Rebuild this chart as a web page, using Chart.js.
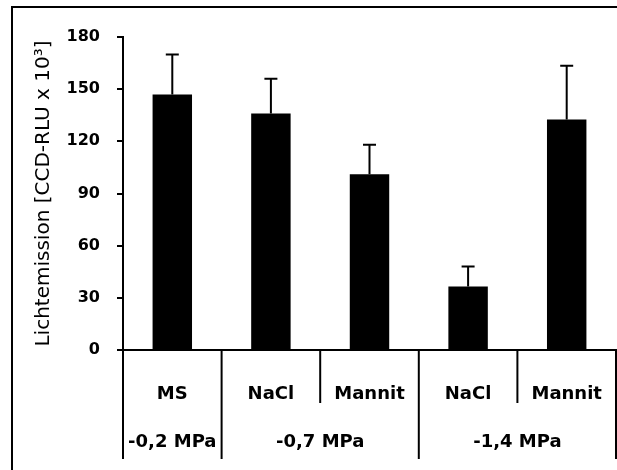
<!DOCTYPE html>
<html>
<head>
<meta charset="utf-8">
<script src="https://cdn.jsdelivr.net/npm/chart.js@4.4.0/dist/chart.umd.min.js"></script>
<style>
  html, body { margin: 0; padding: 0; background: #fff; }
  #wrap { position: relative; width: 617px; height: 470px; overflow: hidden; }
  #frame { position: absolute; left: 11px; top: 6px; width: 700px; height: 500px;
           border-left: 2px solid #000; border-top: 2px solid #000; pointer-events: none; }
  canvas { position: absolute; left: 0; top: 0; }
</style>
</head>
<body>
<div id="wrap">
  <div id="frame"></div>
  <canvas id="lightChart" width="617" height="470"></canvas>
</div>
<script>
// values (x 10^3 RLU)
const categories = ['MS', 'NaCl', 'Mannit', 'NaCl', 'Mannit'];
const lightValues = [147, 136, 101, 36.5, 132.5];
const lightErrors = [23, 20, 17, 11.5, 31];
const groupLabels = ['-0,2 MPa', '-0,7 MPa', '-1,4 MPa'];
const groupSizes = [1, 2, 2];
const yTicks = [0, 30, 60, 90, 120, 150, 180];

// upper error whiskers
const errorBars = {
  id: 'errorBars',
  afterDatasetsDraw(chart) {
    const ctx = chart.ctx;
    const y = chart.scales.y;
    const meta = chart.getDatasetMeta(0);
    ctx.save();
    ctx.strokeStyle = '#000';
    ctx.lineWidth = 2;
    meta.data.forEach((bar, i) => {
      const top = y.getPixelForValue(lightValues[i] + lightErrors[i]);
      ctx.beginPath();
      ctx.moveTo(bar.x, bar.y);
      ctx.lineTo(bar.x, top);
      ctx.moveTo(bar.x - 6.5, top);
      ctx.lineTo(bar.x + 6.5, top);
      ctx.stroke();
    });
    ctx.restore();
  }
};

// divider lines and second label row under the x axis
const groupAxis = {
  id: 'groupAxis',
  afterDraw(chart) {
    const ctx = chart.ctx;
    const x = chart.scales.x;
    const area = chart.chartArea;
    const w = (x.right - x.left) / categories.length;
    const edges = [0];
    groupSizes.forEach(n => edges.push(edges[edges.length - 1] + n));

    ctx.save();
    ctx.strokeStyle = '#000';
    ctx.lineWidth = 2;
    for (let i = 0; i <= categories.length; i++) {
      const px = Math.min(x.left + i * w, chart.width - 1);
      const long = edges.includes(i);
      ctx.beginPath();
      ctx.moveTo(px, area.bottom);
      ctx.lineTo(px, long ? 459 : 403);
      ctx.stroke();
    }

    ctx.fillStyle = '#000';
    ctx.font = 'bold 18px "DejaVu Sans"';
    ctx.textAlign = 'center';
    ctx.textBaseline = 'middle';
    groupLabels.forEach((label, g) => {
      const cx = x.left + (edges[g] + edges[g + 1]) / 2 * w;
      ctx.fillText(label, cx, 442);
    });
    ctx.restore();
  }
};

const ctx = document.getElementById('lightChart').getContext('2d');
new Chart(ctx, {
  type: 'bar',
  data: {
    labels: categories,
    datasets: [{
      data: lightValues,
      backgroundColor: '#000',
      borderWidth: 0,
      barPercentage: 0.4,
      categoryPercentage: 1.0
    }]
  },
  options: {
    responsive: false,
    animation: false,
    layout: { padding: { top: 37, right: 1, bottom: 0, left: 0 } },
    plugins: {
      legend: { display: false },
      tooltip: { enabled: false }
    },
    scales: {
      x: {
        afterFit(scale) {
          scale.height = 120;
          scale.paddingLeft = 0;
          scale.paddingRight = 0;
        },
        grid: { display: false },
        border: { display: true, color: '#000', width: 2 },
        ticks: {
          color: '#000',
          padding: 26,
          maxRotation: 0,
          autoSkip: false,
          font: { family: 'DejaVu Sans', size: 18, weight: 'bold' }
        }
      },
      y: {
        min: 0,
        max: 180,
        afterFit(scale) {
          scale.width = 123;
          scale.paddingTop = 0;
          scale.paddingBottom = 0;
        },
        afterBuildTicks(scale) { scale.ticks = yTicks.map(v => ({ value: v })); },
        grid: { drawOnChartArea: false, drawTicks: true, tickLength: 6, color: '#000', lineWidth: 2 },
        border: { display: true, color: '#000', width: 2 },
        ticks: {
          color: '#000',
          padding: 17,
          font: { family: 'DejaVu Sans', size: 16, weight: 'bold' }
        },
        title: {
          display: true,
          text: 'Lichtemission [CCD-RLU x 10³]',
          color: '#000',
          padding: { top: 32, bottom: 0 },
          font: { family: 'DejaVu Sans', size: 20, weight: 'normal' }
        }
      }
    }
  },
  plugins: [errorBars, groupAxis]
});
</script>
</body>
</html>
